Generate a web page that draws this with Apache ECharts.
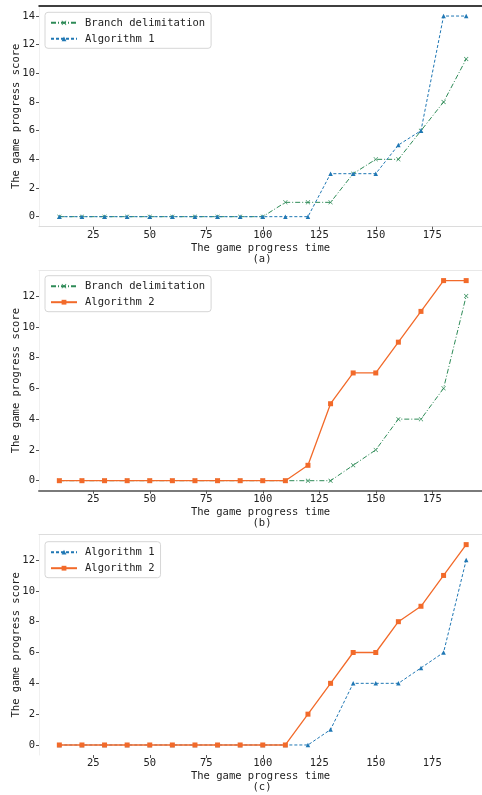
<!DOCTYPE html>
<html><head><meta charset="utf-8">
<script src="https://cdn.jsdelivr.net/npm/echarts@6/dist/echarts.min.js"></script>
<style>html,body{margin:0;padding:0;background:#fff}#c{width:482px;height:795px}</style>
</head><body><div id="c"></div>
<script>
var times = [10,20,30,40,50,60,70,80,90,100,110,120,130,140,150,160,170,180,190];
var branchA = [0,0,0,0,0,0,0,0,0,0,1,1,1,3,4,4,6,8,11];
var algo1A  = [0,0,0,0,0,0,0,0,0,0,0,0,3,3,3,5,6,14,14];
var branchB = [0,0,0,0,0,0,0,0,0,0,0,0,0,1,2,4,4,6,12];
var algo2B  = [0,0,0,0,0,0,0,0,0,0,0,1,5,7,7,9,11,13,13];
var algo1C  = [0,0,0,0,0,0,0,0,0,0,0,0,1,4,4,4,5,6,12];
var algo2C  = [0,0,0,0,0,0,0,0,0,0,0,2,4,6,6,8,9,11,13];
var xTicks = [25,50,75,100,125,150,175];
var yTicksA = [0,2,4,6,8,10,12,14];
var yTicksBC = [0,2,4,6,8,10,12];
var captions = ['(a)','(b)','(c)'];
var xName = 'The game progress time';
var yName = 'The game progress score';

var FONT = 'DejaVu Sans Mono';
var FS = 10.5;
var GREEN = '#2e8b57', BLUE = '#1f77b4', ORANGE = '#f26a2a';
var XSYM = 'path://M0,1 L1,0 L5,4 L9,0 L10,1 L6,5 L10,9 L9,10 L5,6 L1,10 L0,9 L4,5 Z';

function pairs(v){ return times.map(function(t,i){ return [t, v[i]]; }); }

var panels = [
  {top:6, h:220.7, ymin:-0.7, ymax:14.7, yt:yTicksA, topLine:{color:'#000',width:1.5}, botLine:{color:'#dcdcdc',width:1}},
  {top:270.6, h:220.1, ymin:-0.65, ymax:13.65, yt:yTicksBC, topLine:{color:'#e8e8e8',width:1}, botLine:{color:'#7a7a7a',width:2}},
  {top:534.6, h:220.4, ymin:-0.65, ymax:13.65, yt:yTicksBC, topLine:{color:'#dddddd',width:1.2}, botLine:null}
];

var grid=[], xAxis=[], yAxis=[], graphic=[];
panels.forEach(function(p,i){
  grid.push({left:39, right:0, top:p.top, height:p.h, containLabel:false});
  xAxis.push({
    type:'value', gridIndex:i, min:1, max:197, position:'bottom',
    axisLine:{show:!!p.botLine, onZero:false, lineStyle:p.botLine||{}},
    axisTick:{show:true, customValues:xTicks, length:3, lineStyle:{color:'#555'}},
    axisLabel:{customValues:xTicks, margin:3, fontFamily:FONT, fontSize:FS, color:'#222'},
    splitLine:{show:false},
    name:xName, nameLocation:'middle', nameGap:16, nameMoveOverlap:false,
    nameTextStyle:{fontFamily:FONT, fontSize:FS, color:'#222'}
  });
  xAxis.push({
    type:'value', gridIndex:i, min:1, max:197, position:'top',
    axisLine:{show:true, onZero:false, lineStyle:p.topLine},
    axisTick:{show:false}, axisLabel:{show:false}, splitLine:{show:false}
  });
  yAxis.push({
    type:'value', gridIndex:i, min:p.ymin, max:p.ymax,
    axisLine:{show:true, onZero:false, lineStyle:{color:'#f0f0f0',width:1}},
    axisTick:{show:true, customValues:p.yt, length:3, lineStyle:{color:'#555'}},
    axisLabel:{customValues:p.yt, margin:4, fontFamily:FONT, fontSize:FS, color:'#222'},
    splitLine:{show:false},
    name:yName, nameLocation:'middle', nameGap:17, nameRotate:90, nameMoveOverlap:false,
    nameTextStyle:{fontFamily:FONT, fontSize:FS, color:'#222'}
  });
  graphic.push({type:'text', x:262, y:p.top+p.h+32.5,
    style:{text:captions[i], font:FS+'px "'+FONT+'"', fill:'#222', textAlign:'center', textVerticalAlign:'middle'}});
});

function ser(name, data, gi, color, dash, sym, size, w){
  return {type:'line', name:name, data:pairs(data), xAxisIndex:gi*2, yAxisIndex:gi,
    symbol:sym, symbolSize:size, showSymbol:true,
    lineStyle:{color:color, width:w, type:dash}, itemStyle:{color:color},
    emphasis:{disabled:true}, z:3};
}
var series = [
  ser('Branch delimitation', branchA, 0, GREEN, [5,2,1,2], XSYM, 4.5, 1),
  ser('Algorithm 1', algo1A, 0, BLUE, [3,2], 'triangle', 4.5, 1),
  ser('Branch delimitation', branchB, 1, GREEN, [5,2,1,2], XSYM, 4.5, 1),
  ser('Algorithm 2', algo2B, 1, ORANGE, 'solid', 'rect', 5, 1.3),
  ser('Algorithm 1', algo1C, 2, BLUE, [3,2], 'triangle', 4.5, 1),
  ser('Algorithm 2', algo2C, 2, ORANGE, 'solid', 'rect', 5, 1.3)
];

function leg(top, names){
  return {left:45, top:top, orient:'vertical', data:names, itemWidth:26, itemHeight:6, itemGap:5,
    padding:[5,6,4,5], borderColor:'#d6d6d6', borderWidth:1, borderRadius:3, backgroundColor:'#fff',
    textStyle:{fontFamily:FONT, fontSize:FS, color:'#222', padding:[0,0,0,3]}, selectedMode:false};
}
var legend = [
  leg(12.3, ['Branch delimitation','Algorithm 1']),
  leg(275.7, ['Branch delimitation','Algorithm 2']),
  leg(541.7, ['Algorithm 1','Algorithm 2'])
];

var chart = echarts.init(document.getElementById('c'), null, {renderer:'canvas'});
chart.setOption({animation:false, backgroundColor:'#fff', grid:grid, xAxis:xAxis, yAxis:yAxis,
  series:series, legend:legend, graphic:graphic});
</script></body></html>
